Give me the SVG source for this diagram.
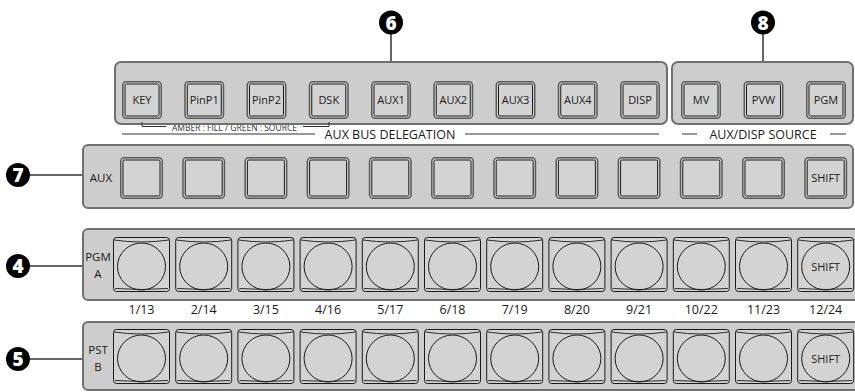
<svg xmlns="http://www.w3.org/2000/svg" xmlns:xlink="http://www.w3.org/1999/xlink" width="855" height="392" viewBox="0 0 855 392">
<style>
.panel{fill:#cdcdcd;stroke:#707070;stroke-width:2}
.lead{stroke:#666;stroke-width:2;fill:none}
.badge{fill:#000}
.bnum{font-family:"Open Sans","DejaVu Sans",sans-serif;font-weight:800;font-size:19px;fill:#fff;text-anchor:middle}
.bt{font-family:"Open Sans","Liberation Sans",sans-serif;font-size:11px;fill:#1a1a1a;text-anchor:middle}
.lbl{font-family:"Open Sans","Liberation Sans",sans-serif;font-size:11.5px;fill:#1a1a1a;text-anchor:middle}
.cap{font-family:"Open Sans","Liberation Sans",sans-serif;font-size:12.5px;fill:#1a1a1a;text-anchor:middle}
.num{font-family:"Open Sans","Liberation Sans",sans-serif;font-size:12.5px;fill:#1a1a1a;text-anchor:middle}
.small{font-family:"Open Sans","Liberation Sans",sans-serif;font-size:8.5px;fill:#333;text-anchor:middle}
.rule{stroke:#333;stroke-width:1;fill:none}
</style>
<defs>
<g id="sbtn">
<rect x="0.75" y="0.75" width="38.5" height="36.5" rx="3.5" fill="#d3d3d3" stroke="#5a5a5a" stroke-width="1.5"/>
<rect x="3" y="3" width="34" height="32" rx="1.5" fill="none" stroke="#1a1a1a" stroke-width="1"/>
</g>
<g id="abtn">
<rect x="0.75" y="0.75" width="41.5" height="40.5" rx="3.5" fill="#d3d3d3" stroke="#5a5a5a" stroke-width="1.5"/>
<rect x="3" y="3" width="37" height="36" rx="1.5" fill="none" stroke="#1a1a1a" stroke-width="1"/>
</g>
<g id="rbtn">
<rect x="0.5" y="0.5" width="56" height="54" rx="3" fill="#d3d3d3" stroke="#1a1a1a" stroke-width="1"/>
<path d="M1,3 Q28.5,7 56,3" fill="none" stroke="#1a1a1a" stroke-width="0.9"/>
<path d="M2,51.5 Q28.5,53.5 55,51.5" fill="none" stroke="#1a1a1a" stroke-width="0.9"/>
<ellipse cx="28.5" cy="29.5" rx="24" ry="23.5" fill="none" stroke="#1a1a1a" stroke-width="1"/>
</g>
</defs>

<g id="connectors">
<line class="lead" x1="391" y1="33" x2="391" y2="62"/>
<line class="lead" x1="763" y1="33" x2="763" y2="62"/>
<line class="lead" x1="29" y1="175" x2="83" y2="175"/>
<line class="lead" x1="29" y1="266" x2="83" y2="266"/>
<line class="lead" x1="29" y1="359" x2="83" y2="359"/>
</g>

<g id="badge6"><circle class="badge" cx="391" cy="22.5" r="12"/><text class="bnum" x="391" y="29.5">6</text></g>
<g id="badge8"><circle class="badge" cx="763" cy="22.5" r="12"/><text class="bnum" x="763" y="29.5">8</text></g>
<g id="badge7"><circle class="badge" cx="18" cy="175" r="12"/><text class="bnum" x="18" y="182">7</text></g>
<g id="badge4"><circle class="badge" cx="18" cy="266" r="12"/><text class="bnum" x="18" y="273">4</text></g>
<g id="badge5"><circle class="badge" cx="18" cy="359" r="12"/><text class="bnum" x="18" y="366">5</text></g>

<g id="aux-bus-delegation">
<text class="small" x="234.5" y="130.5">AMBER : FILL / GREEN : SOURCE</text>
<rect class="panel" x="115" y="62" width="552" height="62" rx="6"/>
<use xlink:href="#sbtn" x="122" y="81"/><text class="bt" x="142" y="104">KEY</text>
<use xlink:href="#sbtn" x="184.25" y="81"/><text class="bt" x="204.25" y="104">PinP1</text>
<use xlink:href="#sbtn" x="246.5" y="81"/><text class="bt" x="266.5" y="104">PinP2</text>
<use xlink:href="#sbtn" x="308.75" y="81"/><text class="bt" x="328.75" y="104">DSK</text>
<use xlink:href="#sbtn" x="371" y="81"/><text class="bt" x="391" y="104">AUX1</text>
<use xlink:href="#sbtn" x="433.25" y="81"/><text class="bt" x="453.25" y="104">AUX2</text>
<use xlink:href="#sbtn" x="495.5" y="81"/><text class="bt" x="515.5" y="104">AUX3</text>
<use xlink:href="#sbtn" x="557.75" y="81"/><text class="bt" x="577.75" y="104">AUX4</text>
<use xlink:href="#sbtn" x="620" y="81"/><text class="bt" x="640" y="104">DISP</text>
<path class="rule" d="M142,122 V126.5 H166 M303,126.5 H329 V122"/>
<line class="rule" x1="122" y1="134" x2="315" y2="134"/>
<text class="cap" x="390" y="139">AUX BUS DELEGATION</text>
<line class="rule" x1="465" y1="134" x2="659" y2="134"/>
</g>

<g id="aux-disp-source">
<rect class="panel" x="672" y="62" width="181" height="62" rx="6"/>
<use xlink:href="#sbtn" x="681" y="81"/><text class="bt" x="701" y="104">MV</text>
<use xlink:href="#sbtn" x="743.5" y="81"/><text class="bt" x="763.5" y="104">PVW</text>
<use xlink:href="#sbtn" x="806" y="81"/><text class="bt" x="826" y="104">PGM</text>
<line class="rule" x1="682" y1="134" x2="697" y2="134"/>
<text class="cap" x="763" y="139">AUX/DISP SOURCE</text>
<line class="rule" x1="830" y1="134" x2="846" y2="134"/>
</g>

<g id="aux-row">
<rect class="panel" x="83" y="145" width="770" height="63" rx="5"/>
<text class="lbl" x="101" y="182">AUX</text>
<use xlink:href="#abtn" x="120" y="157"/>
<use xlink:href="#abtn" x="182.2" y="157"/>
<use xlink:href="#abtn" x="244.4" y="157"/>
<use xlink:href="#abtn" x="306.6" y="157"/>
<use xlink:href="#abtn" x="368.8" y="157"/>
<use xlink:href="#abtn" x="431" y="157"/>
<use xlink:href="#abtn" x="493.2" y="157"/>
<use xlink:href="#abtn" x="555.4" y="157"/>
<use xlink:href="#abtn" x="617.6" y="157"/>
<use xlink:href="#abtn" x="679.8" y="157"/>
<use xlink:href="#abtn" x="742" y="157"/>
<use xlink:href="#abtn" x="804.2" y="157"/>
<text class="bt" x="825.7" y="182">SHIFT</text>
</g>

<g id="pgm-row">
<rect class="panel" x="83" y="229" width="790" height="71" rx="5"/>
<text class="lbl" x="98" y="261">PGM</text>
<text class="lbl" x="98" y="278">A</text>
<use xlink:href="#rbtn" x="113" y="237"/>
<use xlink:href="#rbtn" x="175.2" y="237"/>
<use xlink:href="#rbtn" x="237.4" y="237"/>
<use xlink:href="#rbtn" x="299.6" y="237"/>
<use xlink:href="#rbtn" x="361.8" y="237"/>
<use xlink:href="#rbtn" x="424" y="237"/>
<use xlink:href="#rbtn" x="486.2" y="237"/>
<use xlink:href="#rbtn" x="548.4" y="237"/>
<use xlink:href="#rbtn" x="610.6" y="237"/>
<use xlink:href="#rbtn" x="672.8" y="237"/>
<use xlink:href="#rbtn" x="735" y="237"/>
<use xlink:href="#rbtn" x="797.2" y="237"/>
<text class="bt" x="825.7" y="270.5">SHIFT</text>
</g>

<g id="numbers">
<text class="num" x="141.5" y="314">1/13</text>
<text class="num" x="203.7" y="314">2/14</text>
<text class="num" x="265.9" y="314">3/15</text>
<text class="num" x="328.1" y="314">4/16</text>
<text class="num" x="390.3" y="314">5/17</text>
<text class="num" x="452.5" y="314">6/18</text>
<text class="num" x="514.7" y="314">7/19</text>
<text class="num" x="576.9" y="314">8/20</text>
<text class="num" x="639.1" y="314">9/21</text>
<text class="num" x="701.3" y="314">10/22</text>
<text class="num" x="763.5" y="314">11/23</text>
<text class="num" x="825.7" y="314">12/24</text>
</g>

<g id="pst-row">
<rect class="panel" x="83" y="322" width="790" height="68" rx="5"/>
<text class="lbl" x="98" y="354">PST</text>
<text class="lbl" x="98" y="371">B</text>
<use xlink:href="#rbtn" x="113" y="329"/>
<use xlink:href="#rbtn" x="175.2" y="329"/>
<use xlink:href="#rbtn" x="237.4" y="329"/>
<use xlink:href="#rbtn" x="299.6" y="329"/>
<use xlink:href="#rbtn" x="361.8" y="329"/>
<use xlink:href="#rbtn" x="424" y="329"/>
<use xlink:href="#rbtn" x="486.2" y="329"/>
<use xlink:href="#rbtn" x="548.4" y="329"/>
<use xlink:href="#rbtn" x="610.6" y="329"/>
<use xlink:href="#rbtn" x="672.8" y="329"/>
<use xlink:href="#rbtn" x="735" y="329"/>
<use xlink:href="#rbtn" x="797.2" y="329"/>
<text class="bt" x="825.7" y="362.5">SHIFT</text>
</g>
</svg>
